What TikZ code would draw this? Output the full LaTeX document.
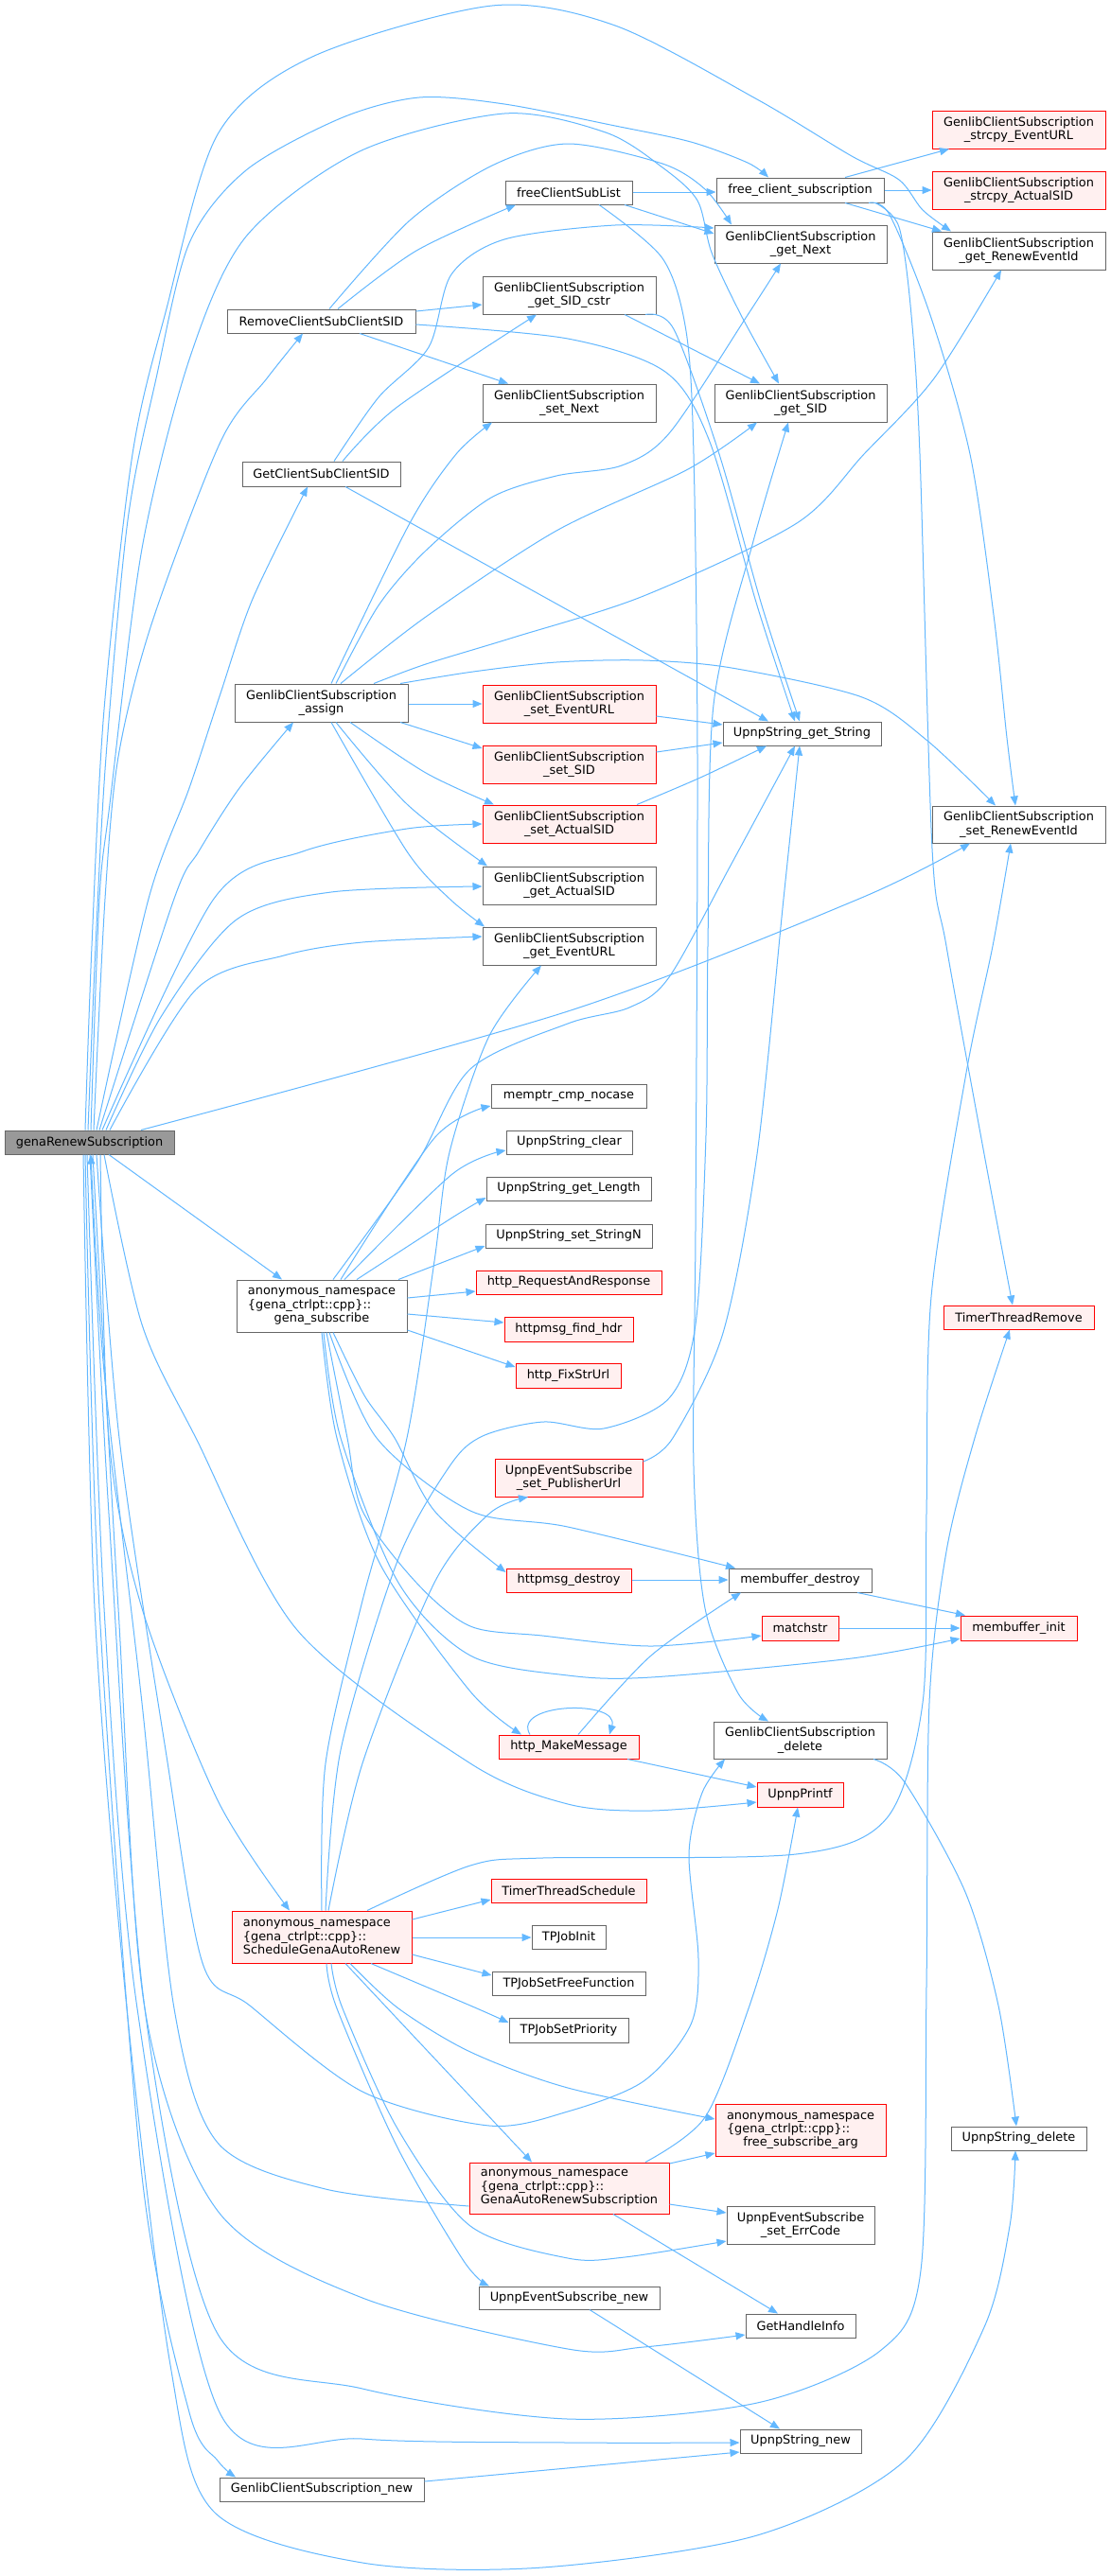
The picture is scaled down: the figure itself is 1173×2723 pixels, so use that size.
\documentclass[tikz,border=0pt]{standalone}
\usepackage{fontspec}
\setmainfont{DejaVu Sans}
\usetikzlibrary{arrows.meta}
\definecolor{edgeblue}{HTML}{63B8FF}
\definecolor{boxgray}{HTML}{666666}
\definecolor{maingray}{HTML}{999999}
\definecolor{redfill}{HTML}{FFF0F0}
\definecolor{redline}{HTML}{FF0000}
\newcommand\dxfont{\fontsize{12.9}{14.4}\selectfont}
\newcommand\nd[7]{%
 \pgfmathsetmacro\ndw{#4-#2}\pgfmathsetmacro\ndh{#5-#3}%
 \pgfmathsetmacro\ndx{(#2+#4)/2}\pgfmathsetmacro\ndy{(#3+#5)/2}%
 \node[#6, minimum width=\ndw pt, minimum height=\ndh pt] (#1) at (\ndx,\ndy) {#7};}
\tikzset{
 nbox/.style={draw=boxgray, fill=white, line width=1pt, inner sep=0pt, align=center, font=\dxfont, text=black},
 rbox/.style={nbox, draw=redline, fill=redfill},
 mbox/.style={nbox, fill=maingray},
 eline/.style={draw=edgeblue, line width=1pt, -{Triangle[length=10pt,width=8pt]}},
}
\begin{document}
\begin{tikzpicture}[x=1pt,y=-1pt]
\fill[white] (0,0) rectangle (1173,2723);
\useasboundingbox (0,0) rectangle (1173,2723);
% ---------- nodes ----------
\nd{G}{5}{1195}{184}{1220}{mbox}{genaRenewSubscription}
\nd{rem}{240}{327}{439}{352}{nbox}{RemoveClientSubClientSID}
\nd{getc}{256}{488}{423}{514}{nbox}{GetClientSubClientSID}
\nd{asg}{248}{723}{431}{763}{nbox}{GenlibClientSubscription\\\_assign}
\nd{gsub}{250}{1353}{430}{1408}{nbox}{\begin{tabular}{@{}l@{}}anonymous\_namespace\\\{gena\_ctrlpt::cpp\}::\\\multicolumn{1}{@{}c@{}}{gena\_subscribe}\end{tabular}}
\nd{sched}{245}{2020}{435}{2075}{rbox,align=left}{anonymous\_namespace\\\{gena\_ctrlpt::cpp\}::\\ScheduleGenaAutoRenew}
\nd{gnew}{232}{2619}{448}{2644}{nbox}{GenlibClientSubscription\_new}
\nd{fcsl}{534}{191}{668}{216}{nbox}{freeClientSubList}
\nd{sidc}{510}{292}{693}{332}{nbox}{GenlibClientSubscription\\\_get\_SID\_cstr}
\nd{snext}{510}{406}{693}{446}{nbox}{GenlibClientSubscription\\\_set\_Next}
\nd{seurl}{510}{724}{693}{764}{rbox}{GenlibClientSubscription\\\_set\_EventURL}
\nd{ssid}{510}{788}{693}{828}{rbox}{GenlibClientSubscription\\\_set\_SID}
\nd{sasid}{510}{851}{693}{891}{rbox}{GenlibClientSubscription\\\_set\_ActualSID}
\nd{gasid}{510}{916}{693}{956}{nbox}{GenlibClientSubscription\\\_get\_ActualSID}
\nd{geurl}{510}{980}{693}{1020}{nbox}{GenlibClientSubscription\\\_get\_EventURL}
\nd{memp}{519}{1146}{683}{1171}{nbox}{memptr\_cmp\_nocase}
\nd{uclr}{535}{1195}{668}{1220}{nbox}{UpnpString\_clear}
\nd{glen}{514}{1244}{688}{1269}{nbox}{UpnpString\_get\_Length}
\nd{sstrn}{513}{1294}{689}{1319}{nbox}{UpnpString\_set\_StringN}
\nd{hrr}{503}{1343}{699}{1368}{rbox}{http\_RequestAndResponse}
\nd{hfh}{533}{1392}{669}{1418}{rbox}{httpmsg\_find\_hdr}
\nd{hfix}{545}{1441}{656}{1467}{rbox}{http\_FixStrUrl}
\nd{spub}{523}{1542}{679}{1582}{rbox}{UpnpEventSubscribe\\\_set\_PublisherUrl}
\nd{hdes}{535}{1658}{667}{1683}{rbox}{httpmsg\_destroy}
\nd{hmm}{527}{1834}{675}{1859}{rbox}{http\_MakeMessage}
\nd{tts}{519}{1986}{683}{2011}{rbox}{TimerThreadSchedule}
\nd{tji}{562}{2035}{640}{2060}{nbox}{TPJobInit}
\nd{tjf}{520}{2084}{682}{2109}{nbox}{TPJobSetFreeFunction}
\nd{tjp}{538}{2133}{664}{2159}{nbox}{TPJobSetPriority}
\nd{gar}{496}{2286}{707}{2340}{rbox,align=left}{anonymous\_namespace\\\{gena\_ctrlpt::cpp\}::\\GenaAutoRenewSubscription}
\nd{uesn}{506}{2417}{697}{2441}{nbox}{UpnpEventSubscribe\_new}
\nd{fcs}{757}{188}{934}{214}{nbox}{free\_client\_subscription}
\nd{gnext}{755}{238}{937}{278}{nbox}{GenlibClientSubscription\\\_get\_Next}
\nd{gsid}{755}{406}{937}{446}{nbox}{GenlibClientSubscription\\\_get\_SID}
\nd{ugs}{764}{763}{931}{788}{nbox}{UpnpString\_get\_String}
\nd{mbd}{770}{1658}{921}{1683}{nbox}{membuffer\_destroy}
\nd{mstr}{805}{1708}{886}{1734}{rbox}{matchstr}
\nd{gdel}{754}{1820}{937}{1859}{nbox}{GenlibClientSubscription\\\_delete}
\nd{upf}{800}{1884}{891}{1910}{rbox}{UpnpPrintf}
\nd{fsa}{756}{2224}{936}{2279}{rbox}{\begin{tabular}{@{}l@{}}anonymous\_namespace\\\{gena\_ctrlpt::cpp\}::\\\multicolumn{1}{@{}c@{}}{free\_subscribe\_arg}\end{tabular}}
\nd{serr}{768}{2332}{924}{2372}{nbox}{UpnpEventSubscribe\\\_set\_ErrCode}
\nd{ghi}{788}{2446}{904}{2471}{nbox}{GetHandleInfo}
\nd{usnew}{782}{2568}{910}{2593}{nbox}{UpnpString\_new}
\nd{sceurl}{985}{117}{1168}{157}{rbox}{GenlibClientSubscription\\\_strcpy\_EventURL}
\nd{scasid}{985}{181}{1168}{221}{rbox}{GenlibClientSubscription\\\_strcpy\_ActualSID}
\nd{grid}{985}{245}{1168}{285}{nbox}{GenlibClientSubscription\\\_get\_RenewEventId}
\nd{srid}{985}{852}{1168}{891}{nbox}{GenlibClientSubscription\\\_set\_RenewEventId}
\nd{ttr}{997}{1380}{1156}{1405}{rbox}{TimerThreadRemove}
\nd{mbi}{1015}{1708}{1138}{1734}{rbox}{membuffer\_init}
\nd{usdel}{1005}{2248}{1148}{2273}{nbox}{UpnpString\_delete}
% ---------- edges from genaRenewSubscription (upwards) ----------
\draw[eline] plot[smooth,tension=.5] coordinates {(G.north -| 90,0) (97,1000) (110,750) (140,480) (175,330) (230,142) (330,60) (520,6) (650,27) (800,105) (900,165) (950,190) (975,222) (grid.north -| 1005,0)};
\draw[eline] plot[smooth,tension=.5] coordinates {(G.north -| 93,0) (101,1000) (112,800) (135,550) (165,400) (200,257) (260,180) (360,125) (443,103) (533,110) (650,133) (730,150) (790,172) (fcs.north -| 812,0)};
\draw[eline] plot[smooth,tension=.5] coordinates {(G.north -| 96,0) (105,950) (116,850) (150,580) (200,380) (260,250) (380,160) (533,120) (640,140) (700,177) (737,212) (752,267) (783,333) (gsid.north -| 823,0)};
\draw[eline] plot[smooth,tension=.5] coordinates {(G.north -| 99,0) (111,950) (125,800) (160,660) (233,467) (282,400) (rem.south -| 320,0)};
\draw[eline] plot[smooth,tension=.5] coordinates {(G.north -| 102,0) (157,950) (200,833) (233,733) (267,633) (getc.south -| 325,0)};
\draw[eline] plot[smooth,tension=.5] coordinates {(G.north -| 105,0) (184,950) (210,900) (253,833) (asg.south -| 310,0)};
\draw[eline] plot[smooth,tension=.5] coordinates {(G.north -| 108,0) (226,950) (320,900) (430,876) (sasid.west |- 0,871)};
\draw[eline] plot[smooth,tension=.5] coordinates {(G.north -| 112,0) (170,1075) (250,972) (350,943) (gasid.west |- 0,937)};
\draw[eline] plot[smooth,tension=.5] coordinates {(G.north -| 116,0) (207,1046) (300,1010) (383,996) (geurl.west |- 0,990)};
\draw[eline] plot[smooth,tension=.5] coordinates {(G.north -| 149,0) (600,1069) (908,950) (srid.south -| 1025,0)};
% ---------- edges from genaRenewSubscription (downwards) ----------
\draw[eline] (G.south -| 115,0) -- (gsub.north -| 298,0);
\draw[eline] plot[smooth,tension=.5] coordinates {(G.south -| 110,0) (150,1400) (207,1520) (314,1723) (497,1864) (600,1907) (688,1914) (upf.west |- 0,1905)};
\draw[eline] plot[smooth,tension=.5] coordinates {(G.south -| 106,0) (115,1520) (150,1700) (230,1903) (sched.north -| 306,0)};
\draw[eline] plot[smooth,tension=.5] coordinates {(G.south -| 102,0) (126,1520) (175,1850) (214,2075) (264,2120) (383,2211) (517,2247) (600,2232) (680,2200) (730,2140) (738,2070) (728,1960) (742,1895) (gdel.south -| 766,0)};
\draw[eline] plot[smooth,tension=.5] coordinates {(G.south -| 98,0) (125,1700) (153,2123) (230,2337) (383,2429) (600,2483) (680,2481) (ghi.west |- 0,2468)};
\draw[eline] plot[smooth,tension=.5] coordinates {(G.south -| 95,0) (115,1600) (153,2123) (230,2467) (383,2525) (600,2557) (800,2540) (930,2485) (973,2400) (979,2100) (982,1800) (1000,1640) (1030,1520) (ttr.south -| 1067,0)};
\draw[eline] plot[smooth,tension=.5] coordinates {(G.south -| 92,0) (110,1700) (145,2123) (233,2552) (383,2578) (600,2582) (usnew.west |- 0,2582)};
\draw[eline] plot[smooth,tension=.5] coordinates {(G.south -| 90,0) (105,1700) (150,2300) (200,2550) (230,2601) (gnew.north -| 249,0)};
\draw[eline] plot[smooth,tension=.5] coordinates {(G.south -| 88,0) (100,1700) (134,2123) (180,2500) (226,2655) (383,2709) (573,2714) (800,2680) (956,2601) (1040,2460) (1067,2353) (usdel.south -| 1073,0)};
\draw[eline] plot[smooth,tension=.5] coordinates {(gar.west |- 0,2332) (344,2314) (230,2265) (184,2123) (150,1800) (110,1450) (G.south -| 96,0)};
% ---------- RemoveClientSubClientSID ----------
\draw[eline] plot[smooth,tension=.5] coordinates {(rem.north -| 348,0) (433,233) (520,175) (600,152) (700,173) (745,200) (gnext.north -| 773,0)};
\draw[eline] plot[smooth,tension=.5] coordinates {(rem.north -| 357,0) (440,265) (fcsl.south -| 545,0)};
\draw[eline] (rem.east |- 0,329) -- (sidc.west |- 0,322);
\draw[eline] plot[smooth,tension=.5] coordinates {(rem.east |- 0,343) (600,358) (703,393) (750,467) (800,640) (ugs.north -| 840,0)};
\draw[eline] (rem.south -| 380,0) -- (snext.north -| 537,0);
% ---------- GetClientSubClientSID ----------
\draw[eline] plot[smooth,tension=.5] coordinates {(getc.north -| 353,0) (400,420) (453,367) (477,290) (533,253) (650,238) (gnext.west |- 0,241)};
\draw[eline] plot[smooth,tension=.5] coordinates {(getc.north -| 362,0) (420,430) (sidc.south -| 567,0)};
\draw[eline] (getc.south -| 365,0) -- (ugs.north -| 812,0);
% ---------- freeClientSubList ----------
\draw[eline] (fcsl.east |- 0,203) -- (fcs.west |- 0,203);
\draw[eline] (fcsl.south -| 660,0) -- (gnext.west |- 0,247);
\draw[eline] plot[smooth,tension=.5] coordinates {(fcsl.south -| 633,0) (700,273) (725,350) (733,480) (737,800) (735,1300) (733,1550) (745,1700) (780,1790) (gdel.north -| 812,0)};
% ---------- get_SID_cstr ----------
\draw[eline] (sidc.south -| 660,0) -- (gsid.north -| 803,0);
\draw[eline] plot[smooth,tension=.5] coordinates {(sidc.south -| 682,0) (712,348) (760,480) (805,640) (ugs.north -| 845,0)};
% ---------- free_client_subscription ----------
\draw[eline] (fcs.north -| 893,0) -- (sceurl.south -| 1003,0);
\draw[eline] (fcs.east |- 0,201) -- (scasid.west |- 0,201);
\draw[eline] (fcs.south -| 893,0) -- (grid.north -| 995,0);
\draw[eline] plot[smooth,tension=.5] coordinates {(fcs.south -| 925,0) (950,240) (963,333) (972,480) (985,897) (1000,1000) (1040,1220) (ttr.north -| 1070,0)};
\draw[eline] plot[smooth,tension=.5] coordinates {(fcs.south -| 918,0) (940,227) (983,333) (1025,480) (1050,650) (1064,780) (srid.north -| 1073,0)};
% ---------- GenlibClientSubscription_assign ----------
\draw[eline] plot[smooth,tension=.5] coordinates {(asg.north -| 350,0) (433,553) (482,480) (snext.south -| 520,0)};
\draw[eline] plot[smooth,tension=.5] coordinates {(asg.north -| 355,0) (400,640) (450,582) (519,526) (588,503) (657,492) (708,457) (790,333) (gnext.south -| 825,0)};
\draw[eline] plot[smooth,tension=.5] coordinates {(asg.north -| 360,0) (450,652) (588,561) (727,496) (gsid.south -| 800,0)};
\draw[eline] plot[smooth,tension=.5] coordinates {(asg.north -| 395,0) (450,702) (542,674) (680,630) (842,553) (913,480) (987,400) (grid.south -| 1058,0)};
\draw[eline] plot[smooth,tension=.5] coordinates {(asg.north -| 423,0) (500,710) (588,700) (680,698) (773,706) (911,737) (980,783) (srid.north -| 1052,0)};
\draw[eline] (asg.east |- 0,744) -- (seurl.west |- 0,744);
\draw[eline] (asg.south -| 423,0) -- (ssid.west |- 0,791);
\draw[eline] plot[smooth,tension=.5] coordinates {(asg.south -| 370,0) (450,817) (sasid.north -| 522,0)};
\draw[eline] plot[smooth,tension=.5] coordinates {(asg.south -| 355,0) (430,850) (gasid.north -| 515,0)};
\draw[eline] plot[smooth,tension=.5] coordinates {(asg.south -| 350,0) (430,900) (475,950) (geurl.north -| 512,0)};
% ---------- setters to UpnpString_get_String ----------
\draw[eline] (seurl.east |- 0,757) -- (ugs.west |- 0,766);
\draw[eline] (ssid.east |- 0,795) -- (ugs.west |- 0,785);
\draw[eline] plot[smooth,tension=.5] coordinates {(sasid.north -| 673,0) (740,822) (ugs.south -| 810,0)};
% ---------- gena_subscribe ----------
\draw[eline] plot[smooth,tension=.5] coordinates {(gsub.north -| 360,0) (459,1203) (memp.west |- 0,1169)};
\draw[eline] plot[smooth,tension=.5] coordinates {(gsub.north -| 364,0) (478,1241) (uclr.west |- 0,1216)};
\draw[eline] plot[smooth,tension=.5] coordinates {(gsub.north -| 377,0) (478,1287) (glen.west |- 0,1266)};
\draw[eline] (gsub.north -| 421,0) -- (sstrn.west |- 0,1317);
\draw[eline] (gsub.east |- 0,1372) -- (hrr.west |- 0,1365);
\draw[eline] (gsub.east |- 0,1389) -- (hfh.west |- 0,1398);
\draw[eline] (gsub.east |- 0,1406) -- (hfix.west |- 0,1445);
\draw[eline] plot[smooth,tension=.5] coordinates {(gsub.north -| 352,0) (440,1230) (497,1130) (600,1082) (665,1065) (707,1033) (773,913) (ugs.south -| 840,0)};
\draw[eline] plot[smooth,tension=.5] coordinates {(gsub.south -| 352,0) (385,1475) (417,1520) (459,1597) (hdes.west |- 0,1662)};
\draw[eline] plot[smooth,tension=.5] coordinates {(gsub.south -| 348,0) (398,1520) (497,1597) (600,1614) (mbd.north -| 777,0)};
\draw[eline] plot[smooth,tension=.5] coordinates {(gsub.south -| 345,0) (367,1520) (383,1597) (440,1673) (497,1719) (573,1729) (688,1740) (mstr.west |- 0,1729)};
\draw[eline] plot[smooth,tension=.5] coordinates {(gsub.south -| 342,0) (360,1520) (421,1673) (497,1750) (600,1771) (688,1773) (900,1753) (mbi.west |- 0,1732)};
\draw[eline] plot[smooth,tension=.5] coordinates {(gsub.south -| 340,0) (356,1520) (402,1654) (497,1788) (hmm.north -| 551,0)};
% ---------- http_MakeMessage etc ----------
\draw[eline] (hmm.north -| 560,0) .. controls (540,1800) and (655,1796) .. (hmm.north -| 644,0);
\draw[eline] plot[smooth,tension=.5] coordinates {(hmm.north -| 611,0) (688,1750) (mbd.south -| 783,0)};
\draw[eline] (hmm.south -| 663,0) -- (upf.west |- 0,1889);
\draw[eline] (hdes.east |- 0,1670) -- (mbd.west |- 0,1670);
\draw[eline] (mbd.south -| 906,0) -- (mbi.north -| 1020,0);
\draw[eline] (mstr.east |- 0,1721) -- (mbi.west |- 0,1721);
\draw[eline] plot[smooth,tension=.5] coordinates {(gdel.south -| 923,0) (956,1884) (1020,2000) (1055,2120) (usdel.north -| 1074,0)};
\draw[eline] plot[smooth,tension=.5] coordinates {(spub.east |- 0,1545) (711,1520) (764,1409) (800,1220) (828,950) (ugs.south -| 845,0)};
% ---------- ScheduleGenaAutoRenew ----------
\draw[eline] plot[smooth,tension=.5] coordinates {(sched.north -| 340,0) (344,1864) (383,1692) (430,1520) (459,1333) (475,1218) (517,1095) (geurl.south -| 572,0)};
\draw[eline] plot[smooth,tension=.5] coordinates {(sched.north -| 344,0) (360,1850) (420,1650) (475,1550) (510,1518) (574,1503) (638,1510) (707,1478) (735,1400) (746,1200) (748,1000) (754,745) (796,572) (gsid.south -| 833,0)};
\draw[eline] plot[smooth,tension=.5] coordinates {(sched.north -| 347,0) (383,1864) (459,1673) (517,1600) (spub.south -| 558,0)};
\draw[eline] plot[smooth,tension=.5] coordinates {(sched.north -| 388,0) (497,1972) (573,1964) (841,1960) (937,1922) (975,1800) (979,1600) (984,1371) (1021,1134) (1049,1000) (srid.south -| 1068,0)};
\draw[eline] (sched.east |- 0,2029) -- (tts.west |- 0,2008);
\draw[eline] (sched.east |- 0,2048) -- (tji.west |- 0,2048);
\draw[eline] (sched.east |- 0,2066) -- (tjf.west |- 0,2088);
\draw[eline] plot[smooth,tension=.5] coordinates {(sched.south -| 392,0) (497,2120) (tjp.west |- 0,2138)};
\draw[eline] plot[smooth,tension=.5] coordinates {(sched.south -| 370,0) (421,2123) (497,2169) (600,2207) (fsa.west |- 0,2240)};
\draw[eline] (sched.south -| 365,0) -- (gar.north -| 562,0);
\draw[eline] plot[smooth,tension=.5] coordinates {(sched.south -| 350,0) (362,2123) (420,2250) (497,2353) (600,2387) (660,2386) (serr.west |- 0,2369)};
\draw[eline] plot[smooth,tension=.5] coordinates {(sched.south -| 345,0) (356,2123) (420,2270) (490,2390) (uesn.north -| 517,0)};
% ---------- GenaAutoRenewSubscription ----------
\draw[eline] (gar.east |- 0,2287) -- (fsa.west |- 0,2276);
\draw[eline] (gar.east |- 0,2330) -- (serr.west |- 0,2339);
\draw[eline] (gar.south -| 648,0) -- (ghi.north -| 822,0);
\draw[eline] plot[smooth,tension=.5] coordinates {(gar.north -| 682,0) (745,2238) (791,2123) (822,2018) (upf.south -| 843,0)};
\draw[eline] (uesn.south -| 623,0) -- (usnew.north -| 824,0);
\draw[eline] (gnew.east |- 0,2623) -- (usnew.west |- 0,2592);
\end{tikzpicture}
\end{document}
